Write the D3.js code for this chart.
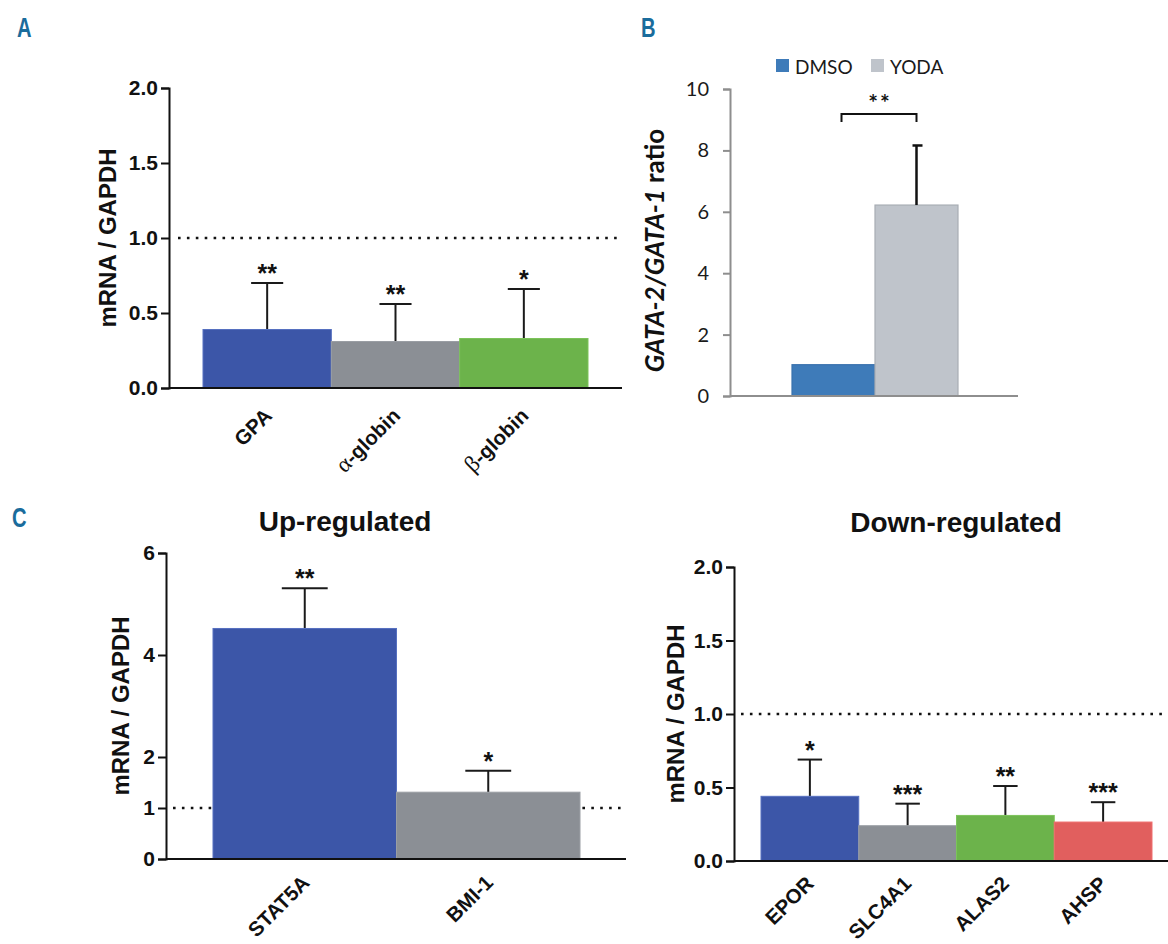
<!DOCTYPE html>
<html><head><meta charset="utf-8">
<script src="https://cdn.jsdelivr.net/npm/d3@7"></script>
<style>body{margin:0;background:#fff} svg{display:block}</style>
</head><body><svg id="fig" width="1168" height="944"></svg>
<script>
// ---------------- DATA ----------------
// Panel A
const genesA = ["GPA", "α-globin", "β-globin"];
const meanA = [0.39, 0.31, 0.33];
const errA = [0.31, 0.25, 0.33];
const sigA = ["**", "**", "*"];
const ticksA = [0, 0.5, 1.0, 1.5, 2.0];
// Panel B
const groupsB = ["DMSO", "YODA"];
const meanB = [1.02, 6.22];
const errB = [0, 1.94];
const sigB = "**";
const ticksB = [0, 2, 4, 6, 8, 10];
// Panel C – up-regulated
const genesUp = ["STAT5A", "BMI-1"];
const meanUp = [4.52, 1.31];
const errUp = [0.79, 0.42];
const sigUp = ["**", "*"];
const ticksUp = [0, 1, 2, 4, 6];
// Panel C – down-regulated
const genesDown = ["EPOR", "SLC4A1", "ALAS2", "AHSP"];
const meanDown = [0.44, 0.24, 0.31, 0.265];
const errDown = [0.25, 0.15, 0.20, 0.135];
const sigDown = ["*", "***", "**", "***"];
const ticksDown = [0, 0.5, 1.0, 1.5, 2.0];

// ---------------- STYLE ----------------
const fills = ["#3c56a8", "#8b8f95", "#6cb34b", "#e15f5e"];
const edges = ["#5670c0", "#9a9ea4", "#7cc35a", "#ef6e6e"];
const SANS = "'Liberation Sans', Arial, Helvetica, sans-serif";
const TEAL = "#1a6c9c";
const svg = d3.select("#fig");
svg.append("rect").attr("width", 1168).attr("height", 944).attr("fill", "#fff");

function letter(t, x, y) {
  svg.append("text").attr("transform", `translate(${x},${y}) scale(0.72,1)`).text(t)
    .attr("font-family", SANS).attr("font-weight", "bold").attr("font-size", 28)
    .attr("fill", TEAL);
}
letter("A", 17, 37);
letter("B", 641, 37);
letter("C", 12, 527);

function prism(o) {
  const g = svg.append("g");
  const y = d3.scaleLinear().domain(o.yDomain).range(o.yRange);
  const x = d3.scaleBand().domain(o.genes).range(o.xRange).padding(0);
  const bw = x.bandwidth();
  const y0 = y(0);
  // dotted reference line at 1
  g.append("line").attr("x1", o.dot[0]).attr("x2", o.dot[1])
    .attr("y1", y(1)).attr("y2", y(1))
    .attr("stroke", "#111").attr("stroke-width", 2.6).attr("stroke-dasharray", "2.6,6.3");
  // error bars (upper only)
  const eg = g.selectAll("g.err").data(o.genes).join("g");
  eg.append("line")
    .attr("x1", d => x(d) + bw / 2).attr("x2", d => x(d) + bw / 2)
    .attr("y1", (d, i) => y(o.means[i])).attr("y2", (d, i) => y(o.means[i] + o.errs[i]))
    .attr("stroke", "#1a1a1a").attr("stroke-width", 2);
  eg.append("line")
    .attr("x1", d => x(d) + bw / 2 - bw * 0.125).attr("x2", d => x(d) + bw / 2 + bw * 0.125)
    .attr("y1", (d, i) => y(o.means[i] + o.errs[i])).attr("y2", (d, i) => y(o.means[i] + o.errs[i]))
    .attr("stroke", "#1a1a1a").attr("stroke-width", 2);
  // bars
  g.selectAll("rect.bar").data(o.genes).join("rect")
    .attr("x", d => x(d)).attr("width", bw)
    .attr("y", (d, i) => y(o.means[i])).attr("height", (d, i) => y0 - y(o.means[i]))
    .attr("fill", (d, i) => fills[i]).attr("stroke", (d, i) => edges[i]).attr("stroke-width", 1);
  // significance stars
  g.selectAll("text.sig").data(o.genes).join("text")
    .attr("x", d => x(d) + bw / 2)
    .attr("y", (d, i) => y(o.means[i] + o.errs[i]) - 1)
    .attr("text-anchor", "middle")
    .attr("font-family", SANS).attr("font-weight", "bold").attr("font-size", 25).attr("fill", "#111")
    .text((d, i) => o.sigs[i]);
  // y axis
  const ax = d3.axisLeft(y).tickValues(o.ticks).tickFormat(o.fmt).tickSizeOuter(0).tickSize(8).tickPadding(3);
  const axg = g.append("g").attr("transform", `translate(${o.axisX},0)`).call(ax);
  axg.select(".domain").attr("stroke", "#111").attr("stroke-width", 2);
  axg.selectAll(".tick line").attr("stroke", "#111").attr("stroke-width", 2);
  axg.selectAll(".tick text").attr("font-family", SANS).attr("font-weight", "bold")
    .attr("font-size", 21).attr("fill", "#111");
  // x axis line
  g.append("line").attr("x1", o.axisX).attr("x2", o.xEnd).attr("y1", y0).attr("y2", y0)
    .attr("stroke", "#111").attr("stroke-width", 2.2);
  // y title
  g.append("text").attr("transform", `translate(${o.yTitleX},${(o.yRange[0] + o.yRange[1]) / 2}) rotate(-90)`)
    .attr("text-anchor", "middle").attr("font-family", SANS).attr("font-weight", "bold")
    .attr("font-size", 24).attr("fill", "#111").text("mRNA / GAPDH");
  // x labels
  const xl = g.selectAll("text.xl").data(o.genes).join("text")
    .attr("transform", d => `translate(${x(d) + bw / 2 + o.labDx},${y0 + o.labDy}) rotate(-45)`)
    .attr("text-anchor", "end").attr("fill", "#111").attr("font-size", 20.5);
  xl.each(function (d) {
    const t = d3.select(this);
    if (d[0] === "α" || d[0] === "β") {
      t.append("tspan").attr("font-family", "'Liberation Serif', 'DejaVu Serif', serif")
        .attr("font-size", 23).text(d[0]);
      t.append("tspan").attr("font-family", SANS).attr("font-weight", "bold").text(d.slice(1));
    } else {
      t.append("tspan").attr("font-family", SANS).attr("font-weight", "bold").text(d);
    }
  });
  // title
  if (o.title) {
    g.append("text").attr("x", o.titleX).attr("y", o.titleY).attr("text-anchor", "middle")
      .attr("font-family", SANS).attr("font-weight", "bold").attr("font-size", 28)
      .attr("fill", "#111").text(o.title);
  }
}

const f1 = d3.format(".1f");
const f0 = d3.format("d");

prism({ genes: genesA, means: meanA, errs: errA, sigs: sigA, ticks: ticksA, fmt: f1,
  yDomain: [0, 2], yRange: [388, 88], xRange: [203, 588], axisX: 169, xEnd: 622,
  dot: [178, 622], yTitleX: 116, labDx: 6, labDy: 29 });

prism({ genes: genesUp, means: meanUp, errs: errUp, sigs: sigUp, ticks: ticksUp, fmt: f0,
  yDomain: [0, 6], yRange: [859, 553], xRange: [213, 580], axisX: 166, xEnd: 626,
  dot: [173, 626], yTitleX: 129, title: "Up-regulated", titleX: 345, titleY: 531, labDx: 6, labDy: 25 });

prism({ genes: genesDown, means: meanDown, errs: errDown, sigs: sigDown, ticks: ticksDown, fmt: f1,
  yDomain: [0, 2], yRange: [861, 567], xRange: [761, 1152], axisX: 734, xEnd: 1168,
  dot: [741, 1168], yTitleX: 684, title: "Down-regulated", titleX: 956, titleY: 532, labDx: 5, labDy: 24 });

// ---------------- PANEL B ----------------
(function () {
  const FONT = "Lato, 'Open Sans', sans-serif";
  const g = svg.append("g");
  const y = d3.scaleLinear().domain([0, 10]).range([396, 89]);
  const x = d3.scaleBand().domain(groupsB).range([792, 958]).padding(0);
  const bw = x.bandwidth();
  const colB = { DMSO: "#3e7bb9", YODA: "#bfc4cb" };
  const edgeB = { DMSO: "#3a72ad", YODA: "#a8adb4" };
  // bars
  g.selectAll("rect.b").data(groupsB).join("rect")
    .attr("x", d => x(d)).attr("width", bw)
    .attr("y", (d, i) => y(meanB[i])).attr("height", (d, i) => y(0) - y(meanB[i]))
    .attr("fill", d => colB[d]).attr("stroke", d => edgeB[d]).attr("stroke-width", 1.2);
  // error bar
  groupsB.forEach((d, i) => {
    if (errB[i] > 0) {
      const cx = x(d) + bw / 2;
      g.append("line").attr("x1", cx).attr("x2", cx)
        .attr("y1", y(meanB[i])).attr("y2", y(meanB[i] + errB[i]))
        .attr("stroke", "#111").attr("stroke-width", 2.5);
      g.append("line").attr("x1", cx - 4).attr("x2", cx + 6)
        .attr("y1", y(meanB[i] + errB[i])).attr("y2", y(meanB[i] + errB[i]))
        .attr("stroke", "#111").attr("stroke-width", 2.5);
    }
  });
  // axis
  const ax = d3.axisLeft(y).tickValues(ticksB).tickFormat(d3.format("d")).tickSizeOuter(0).tickSize(7).tickPadding(14);
  const axg = g.append("g").attr("transform", "translate(730,0)").call(ax);
  axg.select(".domain").attr("stroke", "#8e8e8e").attr("stroke-width", 2);
  axg.selectAll(".tick line").attr("stroke", "#8e8e8e").attr("stroke-width", 2);
  axg.selectAll(".tick text").attr("font-family", FONT).attr("font-size", 20).attr("fill", "#1a1a1a");
  g.append("line").attr("x1", 730).attr("x2", 1018).attr("y1", y(0)).attr("y2", y(0))
    .attr("stroke", "#8e8e8e").attr("stroke-width", 2.2);
  // bracket
  const xl = x("DMSO") + bw / 2 + 8, xr = x("YODA") + bw / 2;
  g.append("path").attr("d", `M${xl},122 V114 H${xr} V122`).attr("fill", "none")
    .attr("stroke", "#111").attr("stroke-width", 2);
  g.append("text").attr("x", (xl + xr) / 2 + 1).attr("y", 111).attr("text-anchor", "middle")
    .attr("font-family", FONT).attr("font-weight", "bold").attr("font-size", 23).attr("letter-spacing", 2)
    .attr("fill", "#111").text(sigB);
  // legend
  const lg = g.selectAll("g.leg").data(groupsB).join("g")
    .attr("transform", (d, i) => `translate(${776 + i * 95},59)`);
  lg.append("rect").attr("width", 13).attr("height", 13).attr("fill", d => colB[d]);
  lg.append("text").attr("x", 19).attr("y", 15).attr("font-family", FONT).attr("font-size", 19)
    .attr("fill", "#1a1a1a").text(d => d);
  // y title
  const t = g.append("text").attr("transform", `translate(664,${(396 + 89) / 2 + 8}) rotate(-90)`)
    .attr("text-anchor", "middle").attr("font-family", FONT).attr("font-weight", "bold")
    .attr("font-size", 26).attr("fill", "#111");
  t.append("tspan").attr("font-style", "italic").text("GATA-2/GATA-1");
  t.append("tspan").text(" ratio");
})();
</script>
</body></html>
